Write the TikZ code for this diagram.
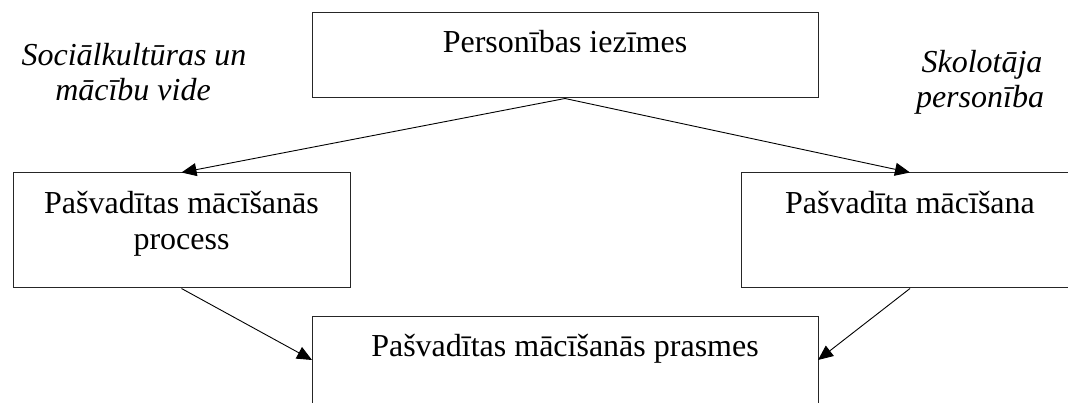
\documentclass[tikz,border=0pt]{standalone}
\usepackage{fontspec}
\setmainfont{Liberation Serif}
\usetikzlibrary{arrows.meta}
\begin{document}
\begin{tikzpicture}[x=1pt,y=-1pt,
  box/.style={draw=black!85, line width=1pt, rectangle, inner sep=0pt},
  txt/.style={font=\fontsize{32}{37}\selectfont, inner sep=0pt, anchor=base},
  itx/.style={txt, font=\fontsize{32}{37}\selectfont\itshape},
  conn/.style={line width=0.9pt, -{Triangle[length=15pt,width=13pt]}}]
\clip (0,0) rectangle (1068,403);
\fill[white] (0,0) rectangle (1068,403);
% boxes
\node[box, minimum width=506pt, minimum height=85pt] (top) at (565,55.5) {};
\node[box, minimum width=337pt, minimum height=115pt] (left) at (181.5,230.5) {};
\node[box, minimum width=338pt, minimum height=115pt] (right) at (910,230.5) {};
\node[box, minimum width=506pt, minimum height=140pt] (bot) at (565,386) {};
% texts
\node[txt] (ttop) at (565,53) {Personības iezīmes};
\node[txt] (tl1) at (181.5,214) {Pašvadītas mācīšanās};
\node[txt] (tl2) at (181.5,250) {process};
\node[txt] (tr) at (910,214) {Pašvadīta mācīšana};
\node[txt] (tb) at (565,356) {Pašvadītas mācīšanās prasmes};
\node[itx] (sl1) at (134,66) {Sociālkultūras un};
\node[itx] (sl2) at (133,101) {mācību vide};
\node[itx] (sr1) at (982,73) {Skolotāja};
\node[itx] (sr2) at (980,108) {personība};
% connector end points
\coordinate (bl) at (312,360);
\coordinate (br) at (818,360);
\draw[conn] (top.south) -- (left.north);
\draw[conn] (top.south) -- (right.north);
\draw[conn] (left.south) -- (bl);
\draw[conn] (right.south) -- (br);
\end{tikzpicture}
\end{document}
